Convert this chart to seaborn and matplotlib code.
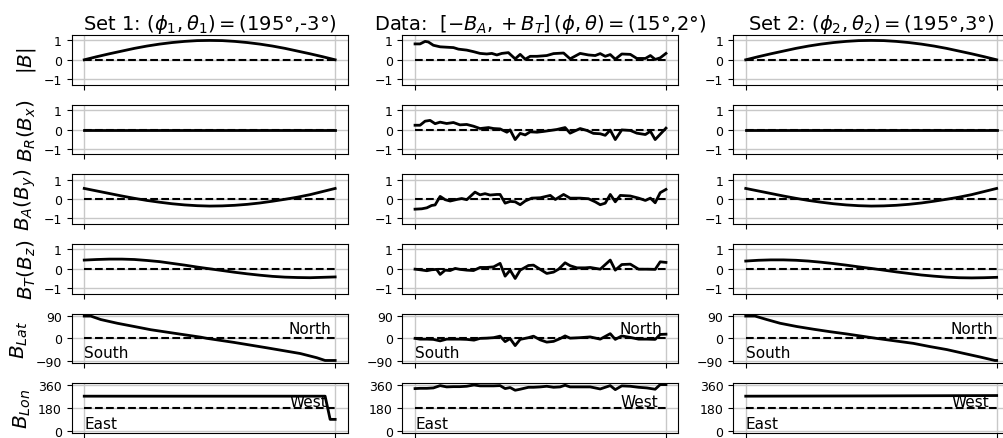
import matplotlib
matplotlib.use("Agg")
import matplotlib.pyplot as plt
import seaborn as sns

# ---- model sets (left / right columns), time in % of interval ----
t_model = [0, 5, 10, 15, 20, 25, 30, 35, 40, 45, 50, 55, 60, 65, 70, 75, 80, 85, 90, 95, 100]

set1_B = [0, 0.16, 0.31, 0.45, 0.59, 0.71, 0.81, 0.89, 0.95, 0.99, 1.0, 0.99, 0.95, 0.89, 0.81, 0.71, 0.59, 0.45, 0.31, 0.16, 0]
set1_BR = [0] * 21
set1_BA = [0.55, 0.42, 0.29, 0.16, 0.04, -0.07, -0.16, -0.24, -0.30, -0.34, -0.36, -0.35, -0.32, -0.27, -0.20, -0.11, -0.01, 0.10, 0.23, 0.39, 0.55]
set1_BT = [0.45, 0.48, 0.5, 0.5, 0.48, 0.43, 0.37, 0.28, 0.19, 0.09, 0.0, -0.09, -0.18, -0.26, -0.33, -0.39, -0.43, -0.45, -0.46, -0.44, -0.42]
set1_lat_t = [0, 2.6, 6.6, 13.2, 19.9, 26.5, 33.1, 39.7, 46.4, 49, 59.6, 72.8, 86.1, 92.7, 96, 100]
set1_lat = [90, 90, 76, 61, 48, 35, 25, 15, 5, 0, -16, -38, -61, -78, -89, -89]
set1_lon_t = [0, 96, 98, 100]
set1_lon = [270, 270, 90, 90]

set2_B = [0, 0.16, 0.31, 0.45, 0.59, 0.71, 0.81, 0.89, 0.95, 0.99, 1.0, 0.99, 0.95, 0.89, 0.81, 0.71, 0.59, 0.45, 0.31, 0.16, 0]
set2_BR = [0] * 21
set2_BA = [0.55, 0.42, 0.29, 0.16, 0.04, -0.07, -0.16, -0.24, -0.30, -0.34, -0.36, -0.35, -0.32, -0.27, -0.20, -0.11, -0.01, 0.10, 0.23, 0.39, 0.55]
set2_BT = [0.4, 0.44, 0.46, 0.46, 0.44, 0.4, 0.34, 0.27, 0.19, 0.1, 0.02, -0.07, -0.16, -0.24, -0.32, -0.38, -0.43, -0.46, -0.47, -0.46, -0.44]
set2_lat_t = [0, 3.7, 8.4, 13.7, 20.3, 27, 33.6, 40.2, 46.9, 52.2, 60.2, 66.8, 73.4, 80.1, 86.7, 93.4, 99.3, 100]
set2_lat = [90, 90, 76, 61, 48, 37, 27, 18, 8, 0, -11, -20, -33, -45, -60, -75, -89, -89]
set2_lon_t = [0, 50, 100]
set2_lon = [270, 272, 275]

# ---- observed data (middle column) ----
data_B_t = [0, 2, 4, 5.3, 7.3, 10, 12.6, 15.3, 17.3, 20.6, 23.3, 25.9, 28.6, 30.6, 32.6, 34.6, 37.2, 39.9, 41.9, 43.9,
            45.9, 48.6, 52.5, 55.2, 59.2, 61.8, 65.8, 69.1, 71.8, 73.8, 75.8, 77.8, 79.8, 82.4, 85.8, 88.4, 91.8, 93.8, 95.7, 97.7, 100]
data_B = [0.82, 0.82, 0.95, 0.92, 0.75, 0.67, 0.65, 0.63, 0.55, 0.5, 0.42, 0.33, 0.3, 0.33, 0.25, 0.33, 0.37, 0.05, 0.28, 0.03,
          0.18, 0.18, 0.22, 0.32, 0.35, 0.05, 0.33, 0.25, 0.22, 0.32, 0.18, 0.27, 0.03, 0.3, 0.28, 0.07, 0.07, 0.22, 0.02, 0.1, 0.33]

data_BR_t = [0, 2, 4, 6, 8, 10, 12.6, 15.3, 17.9, 20.6, 23.3, 25.9, 29.3, 31.3, 33.9, 36.6, 37.9, 39.9, 41.9, 43.9,
             45.9, 48.6, 51.2, 53.9, 56.5, 59.8, 61.8, 65.8, 68.5, 71.1, 73.8, 75.8, 77.8, 79.8, 82.4, 85.8, 88.4, 91.8, 93.8, 95.7, 100]
data_BR = [0.22, 0.22, 0.43, 0.47, 0.3, 0.38, 0.31, 0.36, 0.24, 0.26, 0.17, 0.05, 0.1, 0.05, 0.03, -0.14, -0.02, -0.52, -0.2, -0.28,
           -0.12, -0.14, -0.1, -0.05, 0, 0.1, -0.19, 0.05, -0.05, -0.2, -0.22, -0.3, -0.03, -0.52, -0.02, -0.05, -0.19, -0.26, -0.09, -0.52, 0.07]

data_BA_t = [0, 2.7, 4.7, 6.6, 8, 10, 12, 14, 16.6, 18.6, 20.6, 23.9, 25.9, 27.9, 29.9, 32.6, 33.9, 35.9, 37.9, 39.9, 41.9,
             43.9, 46.5, 49.9, 53.9, 55.9, 59.2, 61.8, 65.8, 69.1, 71.8, 73.8, 75.8, 77.8, 79.8, 81.8, 85.8, 89.1, 91.8, 93.8, 95.7, 97.7, 100]
data_BA = [-0.52, -0.5, -0.45, -0.33, -0.3, 0.14, -0.03, -0.1, -0.02, 0.03, -0.03, 0.36, 0.22, 0.28, 0.21, 0.24, 0.24, -0.21, -0.12, -0.14, -0.29,
           -0.1, 0.05, 0.07, 0.19, -0.02, 0.24, 0.05, 0.05, 0.02, -0.14, -0.29, -0.21, 0.24, -0.14, 0.19, 0.16, 0.05, -0.07, 0.05, -0.19, 0.33, 0.5]

data_BT_t = [0, 2, 4.7, 6.6, 8.6, 10, 12, 14, 16, 17.9, 20.6, 23.3, 25.9, 28.6, 31.3, 33.9, 35.9, 37.9, 39.9, 41.9,
             45.2, 47.2, 49.9, 52.5, 55.2, 57.2, 59.8, 61.8, 64.5, 67.8, 69.8, 73.8, 77.8, 79.8, 82.4, 85.8, 89.1, 92.4, 95.7, 97.7, 100]
data_BT = [-0.02, -0.05, -0.1, -0.05, -0.03, -0.29, -0.07, -0.09, 0.02, -0.03, -0.07, -0.09, 0.07, 0.07, 0.1, 0.28, -0.38, -0.07, -0.5, -0.07,
           0.17, 0.19, -0.03, -0.24, -0.17, -0.02, 0.31, 0.16, 0.05, 0.05, 0.07, -0.02, 0.45, -0.07, 0.22, 0.24, -0.02, -0.02, -0.03, 0.36, 0.33]

data_ang_t = [0, 2, 4.7, 7.3, 10, 12.6, 15.3, 17.9, 20.6, 23.5, 25.9, 28.6, 31.3, 33.9, 35.9, 37.9, 39.9, 41.9, 45.2,
              47.2, 49.9, 52.5, 55.2, 57.8, 59.8, 61.8, 65.8, 69.8, 73.8, 77.8, 79.8, 82.4, 85.8, 89.1, 92.4, 95.7, 97.7, 100]
data_lat = [0, -3, -3, -4, -10, -3, -3, -3, -4, -7, 0, 1, 3, 9, -13, -1, -29, -4, 3,
            9, -6, -15, -12, -1, 10, 1, 3, 6, -3, 19, -4, 10, 4, -3, -3, -4, 16, 17]
data_lon = [329, 331, 331, 334, 352, 342, 344, 344, 347, 357, 350, 350, 350, 352, 329, 337, 316, 324, 339,
            339, 342, 347, 339, 342, 355, 342, 342, 342, 326, 352, 321, 350, 347, 339, 334, 324, 360, 360]

titles = [r"Set 1: $(\phi_1, \theta_1) = $(195°,-3°)",
          r"Data:  $[-B_A, +B_T]\,(\phi, \theta) = $(15°,2°)",
          r"Set 2: $(\phi_2, \theta_2) = $(195°,3°)"]
ylabels = [r"$|B|$", r"$B_R(B_x)$", r"$B_A(B_y)$", r"$B_T(B_z)$", r"$B_{Lat}$", r"$B_{Lon}$"]

columns = [
    [(t_model, set1_B), (t_model, set1_BR), (t_model, set1_BA), (t_model, set1_BT),
     (set1_lat_t, set1_lat), (set1_lon_t, set1_lon)],
    [(data_B_t, data_B), (data_BR_t, data_BR), (data_BA_t, data_BA), (data_BT_t, data_BT),
     (data_ang_t, data_lat), (data_ang_t, data_lon)],
    [(t_model, set2_B), (t_model, set2_BR), (t_model, set2_BA), (t_model, set2_BT),
     (set2_lat_t, set2_lat), (set2_lon_t, set2_lon)],
]

ylims = [(-1.28, 1.28)] * 4 + [(-100, 100), (-15, 370)]
yticks = [[-1, 0, 1]] * 4 + [[-90, 0, 90], [0, 180, 360]]
refs = [0, 0, 0, 0, 0, 180]

W, H = 1004, 439
lefts = [71.7, 402.5, 733.2]
tops = [36, 105.7, 175.3, 245, 314.6, 384.3]
aw, ah = 276, 49.6

fig = plt.figure(figsize=(W / 100, H / 100), dpi=100)

for c, col in enumerate(columns):
    for r, (tt, vv) in enumerate(col):
        ax = fig.add_axes([lefts[c] / W, 1 - (tops[r] + ah) / H, aw / W, ah / H])
        sns.lineplot(x=tt, y=vv, ax=ax, color="k", lw=2, estimator=None, sort=False)
        sns.lineplot(x=[tt[0], tt[-1]], y=[refs[r], refs[r]], ax=ax, color="k",
                     lw=1.5, linestyle="--", estimator=None)
        ax.set_xlim(-5, 105)
        ax.set_ylim(*ylims[r])
        ax.set_yticks(yticks[r])
        ax.set_xticks([tt[0], tt[-1]])
        ax.set_xticklabels([])
        ax.tick_params(labelsize=9)
        ax.grid(True, color="#c8c8c8", lw=1)
        ax.set_xlabel("")
        if c == 0:
            ax.set_ylabel(ylabels[r], fontsize=14.5)
        else:
            ax.set_ylabel("")
        if r == 0:
            ax.set_title(titles[c], fontsize=14, pad=4)
        tr = ax.get_xaxis_transform()
        if r == 4:
            ax.text(98.5, 0.6, "North", transform=tr, ha="right", va="baseline", fontsize=11)
            ax.text(0, 0.13, "South", transform=tr, ha="left", va="baseline", fontsize=11)
        if r == 5:
            ax.text(97, 0.55, "West", transform=tr, ha="right", va="baseline", fontsize=11)
            ax.text(0, 0.09, "East", transform=tr, ha="left", va="baseline", fontsize=11)

fig.savefig("out.png", dpi=100)
